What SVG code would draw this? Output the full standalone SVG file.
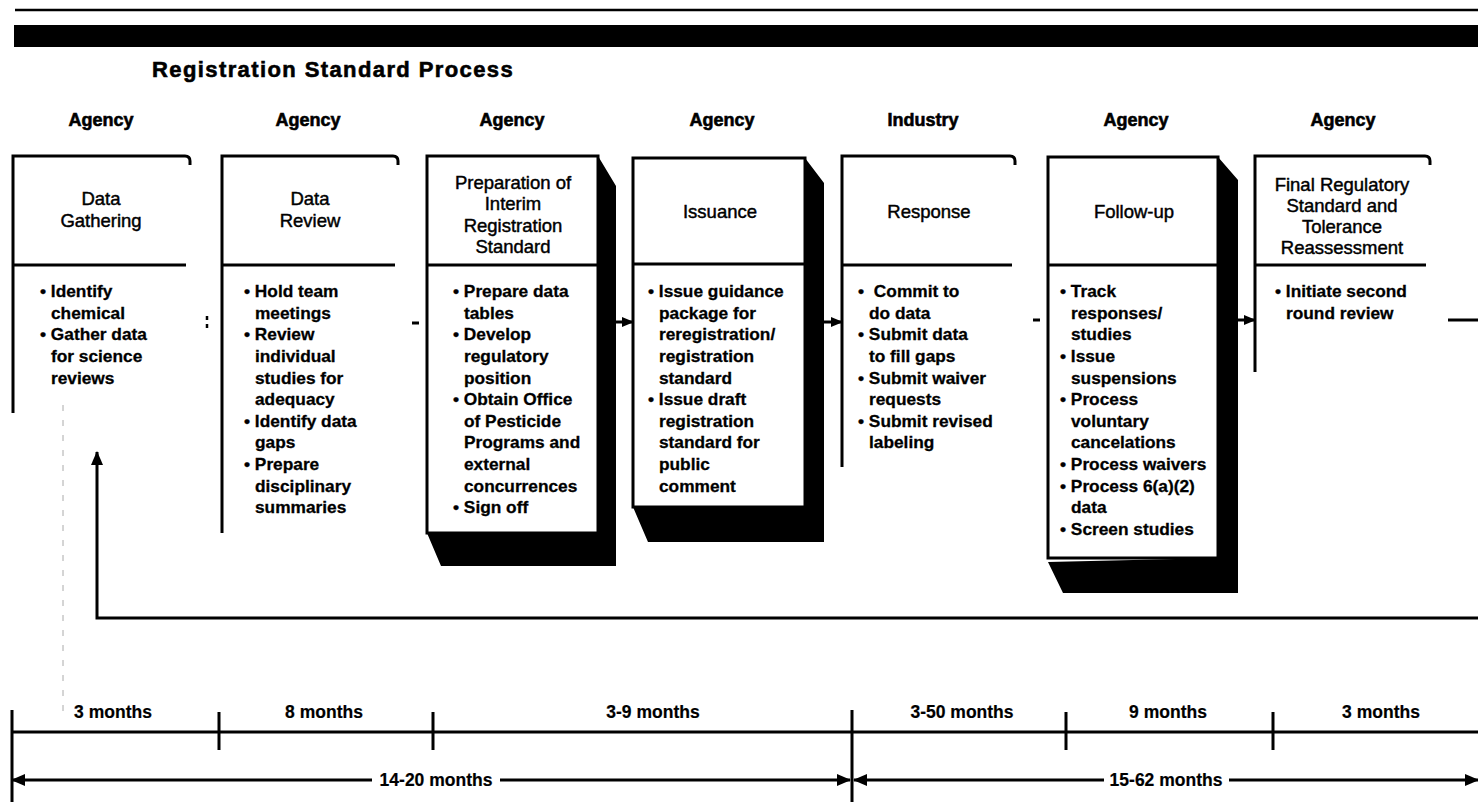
<svg xmlns="http://www.w3.org/2000/svg" width="1478" height="802" viewBox="0 0 1478 802">
<style>
.ln{stroke:#000;stroke-width:3;fill:none}
.bx{stroke:#000;stroke-width:3;fill:#fff}
.sh{fill:#000;stroke:none}
.t{font-family:"Liberation Sans",Arial,Helvetica,sans-serif;fill:#000}
.hd{font-size:18.5px;text-anchor:middle;stroke:#000;stroke-width:0.45}
.bt{font-size:17.3px;font-weight:bold;stroke:#000;stroke-width:0.3}
.lab{font-size:18px;font-weight:bold;text-anchor:middle;stroke:#000;stroke-width:0.6}
.ttl{font-size:22px;font-weight:bold;letter-spacing:1.4px;stroke:#000;stroke-width:0.6}
.tl{font-size:17.5px;font-weight:bold;text-anchor:middle;stroke:#000;stroke-width:0.2}
</style>
<defs>
<marker id="ah" viewBox="0 0 14 12" refX="13" refY="6" markerWidth="14" markerHeight="12" markerUnits="userSpaceOnUse" orient="auto-start-reverse"><path d="M0,0 L14,6 L0,12 z" fill="#000"/></marker>
<marker id="ahs" viewBox="0 0 12 10" refX="11" refY="5" markerWidth="12" markerHeight="10" markerUnits="userSpaceOnUse" orient="auto-start-reverse"><path d="M0,0 L12,5 L0,10 z" fill="#000"/></marker>
</defs>
<rect width="1478" height="802" fill="#fff"/>
<g id="header">
<line x1="15" y1="10" x2="1478" y2="10" stroke="#000" stroke-width="2.5"/>
<rect x="14" y="25" width="1464" height="22" fill="#000"/>
<text class="t ttl" x="152" y="77">Registration Standard Process</text>
</g>
<g id="actors">
<text class="t lab" x="101" y="126">Agency</text>
<text class="t lab" x="308" y="126">Agency</text>
<text class="t lab" x="512" y="126">Agency</text>
<text class="t lab" x="722" y="126">Agency</text>
<text class="t lab" x="923" y="126">Industry</text>
<text class="t lab" x="1136" y="126">Agency</text>
<text class="t lab" x="1343" y="126">Agency</text>
</g>
<g id="connectors">
<path class="ln" d="M1478,618 H97 V452" marker-end="url(#ah)"/>
<path class="ln" d="M616,322 H633" marker-end="url(#ahs)"/>
<path class="ln" d="M824,322 H842" marker-end="url(#ahs)"/>
<path class="ln" d="M1238,320 H1255" marker-end="url(#ahs)"/>
<path d="M207,316 V320 M207,324 V328" stroke="#000" stroke-width="2.5"/>
<path d="M412,323 H419" stroke="#000" stroke-width="3"/>
<path d="M1033,320 H1040" stroke="#000" stroke-width="3"/>
<path d="M1448,320 H1478" stroke="#000" stroke-width="3"/>
<line x1="63" y1="405" x2="63" y2="712" stroke="#aaa" stroke-width="1" stroke-dasharray="6 9"/>
</g>
<g id="n1">
<path class="ln" d="M13,413 V156 H185 Q190,156 190,161 V165"/>
<path class="ln" d="M13,265 H186"/>
<text class="t hd" x="101" y="205">Data</text>
<text class="t hd" x="101" y="227">Gathering</text>
<text class="t bt" x="40" y="297">• Identify<tspan x="51" y="319">chemical</tspan><tspan x="40" y="340">• Gather data</tspan><tspan x="51" y="362">for science</tspan><tspan x="51" y="384">reviews</tspan></text>
</g>
<g id="n2">
<path class="ln" d="M222,533 V156 H393 Q398,156 398,161 V165"/>
<path class="ln" d="M222,265 H395"/>
<text class="t hd" x="310" y="205">Data</text>
<text class="t hd" x="310" y="227">Review</text>
<text class="t bt" x="244" y="297">• Hold team<tspan x="255" y="319">meetings</tspan><tspan x="244" y="340">• Review</tspan><tspan x="255" y="362">individual</tspan><tspan x="255" y="384">studies for</tspan><tspan x="255" y="405">adequacy</tspan><tspan x="244" y="427">• Identify data</tspan><tspan x="255" y="448">gaps</tspan><tspan x="244" y="470">• Prepare</tspan><tspan x="255" y="492">disciplinary</tspan><tspan x="255" y="513">summaries</tspan></text>
</g>
<g id="n3">
<polygon class="sh" points="598,156 616,186 616,566 441,566 427,533 598,533"/>
<rect class="bx" x="427" y="156" width="171" height="377"/>
<path class="ln" d="M427,265 H598"/>
<text class="t hd" x="513" y="189">Preparation of</text>
<text class="t hd" x="513" y="210">Interim</text>
<text class="t hd" x="513" y="232">Registration</text>
<text class="t hd" x="513" y="253">Standard</text>
<text class="t bt" x="453" y="297">• Prepare data<tspan x="464" y="319">tables</tspan><tspan x="453" y="340">• Develop</tspan><tspan x="464" y="362">regulatory</tspan><tspan x="464" y="384">position</tspan><tspan x="453" y="405">• Obtain Office</tspan><tspan x="464" y="427">of Pesticide</tspan><tspan x="464" y="448">Programs and</tspan><tspan x="464" y="470">external</tspan><tspan x="464" y="492">concurrences</tspan><tspan x="453" y="513">• Sign off</tspan></text>
</g>
<g id="n4">
<polygon class="sh" points="805,158 824,183 824,542 648,542 633,507 805,507"/>
<rect class="bx" x="633" y="158" width="172" height="349"/>
<path class="ln" d="M633,264 H805"/>
<text class="t hd" x="720" y="218">Issuance</text>
<text class="t bt" x="648" y="297">• Issue guidance<tspan x="659" y="319">package for</tspan><tspan x="659" y="340">reregistration/</tspan><tspan x="659" y="362">registration</tspan><tspan x="659" y="384">standard</tspan><tspan x="648" y="405">• Issue draft</tspan><tspan x="659" y="427">registration</tspan><tspan x="659" y="448">standard for</tspan><tspan x="659" y="470">public</tspan><tspan x="659" y="492">comment</tspan></text>
</g>
<g id="n5">
<path class="ln" d="M842,467 V156 H1010 Q1015,156 1015,161 V165"/>
<path class="ln" d="M842,265 H1012"/>
<text class="t hd" x="929" y="218">Response</text>
<text class="t bt" x="858" y="297">• <tspan dx="5">Commit to</tspan><tspan x="869" y="319">do data</tspan><tspan x="858" y="340">• Submit data</tspan><tspan x="869" y="362">to fill gaps</tspan><tspan x="858" y="384">• Submit waiver</tspan><tspan x="869" y="405">requests</tspan><tspan x="858" y="427">• Submit revised</tspan><tspan x="869" y="448">labeling</tspan></text>
</g>
<g id="n6">
<polygon class="sh" points="1218,157 1238,180 1238,593 1063,593 1048,562 1218,558"/>
<rect class="bx" x="1048" y="157" width="170" height="401"/>
<path class="ln" d="M1048,265 H1218"/>
<text class="t hd" x="1134" y="218">Follow-up</text>
<text class="t bt" x="1060" y="297">• Track<tspan x="1071" y="319">responses/</tspan><tspan x="1071" y="340">studies</tspan><tspan x="1060" y="362">• Issue</tspan><tspan x="1071" y="384">suspensions</tspan><tspan x="1060" y="405">• Process</tspan><tspan x="1071" y="427">voluntary</tspan><tspan x="1071" y="448">cancelations</tspan><tspan x="1060" y="470">• Process waivers</tspan><tspan x="1060" y="492">• Process 6(a)(2)</tspan><tspan x="1071" y="513">data</tspan><tspan x="1060" y="535">• Screen studies</tspan></text>
</g>
<g id="n7">
<path class="ln" d="M1255,372 V156 H1425 Q1430,156 1430,161 V165"/>
<path class="ln" d="M1255,265 H1426"/>
<text class="t hd" x="1342" y="191">Final Regulatory</text>
<text class="t hd" x="1342" y="212">Standard and</text>
<text class="t hd" x="1342" y="233">Tolerance</text>
<text class="t hd" x="1342" y="254">Reassessment</text>
<text class="t bt" x="1275" y="297">• Initiate second<tspan x="1286" y="319">round review</tspan></text>
</g>
<g id="timeline">
<path class="ln" d="M12,732 H1478"/>
<path class="ln" d="M12,710 V802 M852,710 V802 M219,712 V750 M433,712 V750 M1066,712 V750 M1273,712 V750"/>
<path class="ln" d="M12,780 H372" marker-start="url(#ah)"/>
<path class="ln" d="M500,780 H850" marker-end="url(#ah)"/>
<path class="ln" d="M854,780 H1104" marker-start="url(#ah)"/>
<path class="ln" d="M1229,780 H1478" marker-end="url(#ah)"/>
<text class="t tl" x="113" y="718">3 months</text>
<text class="t tl" x="324" y="718">8 months</text>
<text class="t tl" x="653" y="718">3-9 months</text>
<text class="t tl" x="962" y="718">3-50 months</text>
<text class="t tl" x="1168" y="718">9 months</text>
<text class="t tl" x="1381" y="718">3 months</text>
<text class="t tl" x="436" y="786">14-20 months</text>
<text class="t tl" x="1166" y="786">15-62 months</text>
</g>
</svg>
